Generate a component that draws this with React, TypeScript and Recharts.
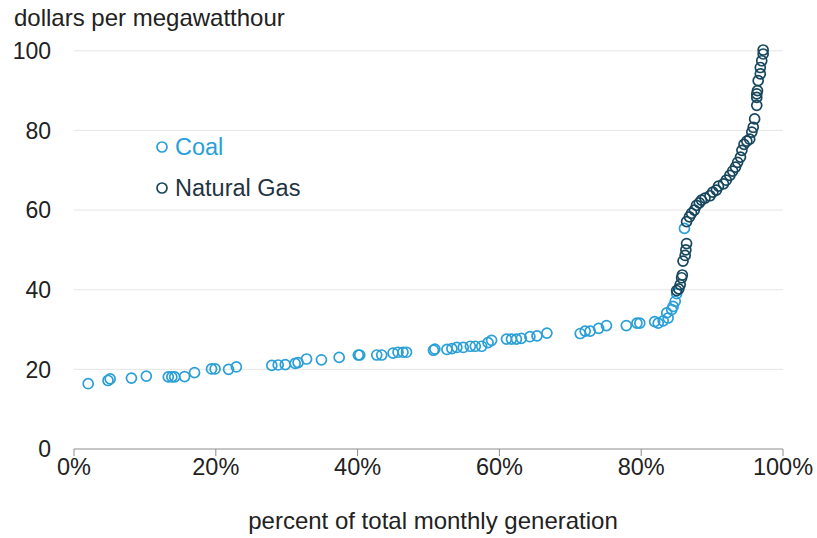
import { ScatterChart, Scatter, XAxis, YAxis, CartesianGrid } from "recharts";

// Coal and natural gas supply curve: cost vs. cumulative share of monthly generation
const coalX = [
  2.0, 4.8, 5.1, 8.1, 10.2, 13.3, 13.8, 14.2, 15.6, 17.0, 19.4, 19.9, 21.8, 22.9, 27.9, 28.8, 29.8,
  31.2, 31.6, 32.8, 34.9, 37.4, 40.1, 40.3, 42.7, 43.4, 45.0, 45.7, 46.4, 46.9, 50.7, 50.9, 52.6,
  53.3, 54.0, 54.9, 55.9, 56.6, 57.5, 58.4, 58.9, 61.0, 61.7, 62.4, 63.1, 64.3, 65.3, 66.7, 71.4,
  72.1, 72.8, 74.0, 75.1, 77.9, 79.4, 79.8, 81.9, 82.4, 83.1, 83.8, 83.6, 84.3, 84.5, 84.8, 85.0,
  86.1,
];
const coalY = [
  16.4, 17.2, 17.6, 17.8, 18.3, 18.1, 18.1, 18.1, 18.2, 19.2, 20.1, 20.1, 20.0, 20.6, 21.0, 21.1,
  21.2, 21.5, 21.7, 22.6, 22.4, 23.0, 23.6, 23.6, 23.6, 23.6, 24.1, 24.3, 24.3, 24.3, 24.8, 25.1,
  25.0, 25.2, 25.5, 25.5, 25.8, 25.8, 25.8, 26.7, 27.3, 27.6, 27.6, 27.6, 27.8, 28.2, 28.4, 29.1,
  29.0, 29.6, 29.6, 30.3, 31.0, 31.0, 31.6, 31.6, 32.0, 31.6, 32.2, 32.9, 34.2, 35.0, 35.8, 37.1,
  39.0, 55.4,
];
const gasX = [
  85.0, 85.3, 85.5, 85.7, 85.8, 85.9, 86.2, 86.3, 86.4, 86.4, 86.8, 87.1, 87.5, 87.8, 88.2, 88.5,
  89.0, 89.7, 90.1, 90.6, 90.9, 91.6, 92.0, 92.5, 92.9, 93.3, 93.6, 94.0, 94.2, 94.5, 94.9, 95.3,
  95.6, 95.8, 96.0, 96.3, 96.3, 96.3, 96.4, 96.5, 96.8, 96.8, 97.0, 97.2, 97.2,
];
const gasY = [
  39.8, 40.2, 41.3, 43.0, 43.7, 47.2, 48.6, 50.0, 51.6, 57.1, 58.3, 59.2, 60.0, 61.2, 61.8, 62.5,
  63.0, 63.6, 64.5, 65.0, 66.0, 66.6, 67.5, 68.7, 69.8, 70.8, 72.0, 73.3, 75.0, 76.5, 77.3, 77.8,
  79.6, 80.8, 82.9, 86.3, 88.3, 89.2, 90.0, 92.5, 94.2, 95.8, 97.5, 99.2, 100.2,
];
const xTicks = [0, 20, 40, 60, 80, 100];
const yTicks = [0, 20, 40, 60, 80, 100];

const COAL = "#2a9fd8";
const GAS = "#17475e";
const FONT = "'Liberation Sans', Arial, sans-serif";

const coal = coalX.map((x, i) => ({ x, y: coalY[i] }));
const gas = gasX.map((x, i) => ({ x, y: gasY[i] }));

const ring = (color: string) => (p: any) =>
  <circle cx={p.cx} cy={p.cy} r={5} fill="none" stroke={color} strokeWidth={1.7} />;

export default function App() {
  return (
    <div style={{ position: "absolute", left: 0, top: 0, width: 817, height: 538, fontFamily: FONT, background: "#fff" }}>
      <ScatterChart width={817} height={538} margin={{ top: 50, right: 34, bottom: 9, left: 0 }}>
        <CartesianGrid vertical={false} stroke="#e6e6e6" horizontalValues={[20, 40, 60, 80, 100]} />
        <XAxis
          type="number"
          dataKey="x"
          domain={[0, 100]}
          ticks={xTicks}
          tickFormatter={(v) => `${v}%`}
          height={80}
          stroke="#8c8c8c"
          tickSize={7}
          tickMargin={2}
          tick={{ fontSize: 23.5, fill: "#222", fontFamily: FONT }}
        />
        <YAxis
          type="number"
          dataKey="y"
          domain={[0, 100]}
          ticks={yTicks}
          width={74}
          axisLine={false}
          tickLine={false}
          tickSize={0}
          tickMargin={23}
          tick={{ fontSize: 23, fill: "#222", fontFamily: FONT }}
        />
        <Scatter data={coal} shape={ring(COAL)} isAnimationActive={false} />
        <Scatter data={gas} shape={ring(GAS)} isAnimationActive={false} />
      </ScatterChart>

      <div style={{ position: "absolute", left: 14, top: 5, fontSize: 24, lineHeight: "26px", color: "#222" }}>
        dollars per megawatthour
      </div>

      <svg style={{ position: "absolute", left: 155, top: 140 }} width={14} height={56}>
        <circle cx={7} cy={7} r={5} fill="none" stroke={COAL} strokeWidth={1.7} />
        <circle cx={7} cy={48} r={5} fill="none" stroke={GAS} strokeWidth={1.7} />
      </svg>
      <div style={{ position: "absolute", left: 175, top: 134, fontSize: 23.5, lineHeight: "26px", color: COAL }}>Coal</div>
      <div style={{ position: "absolute", left: 175, top: 175, fontSize: 23.5, lineHeight: "26px", color: "#1f3442" }}>
        Natural Gas
      </div>

      <div style={{ position: "absolute", left: 183, width: 500, textAlign: "center", top: 508, fontSize: 24, lineHeight: "26px", color: "#222" }}>
        percent of total monthly generation
      </div>
    </div>
  );
}
